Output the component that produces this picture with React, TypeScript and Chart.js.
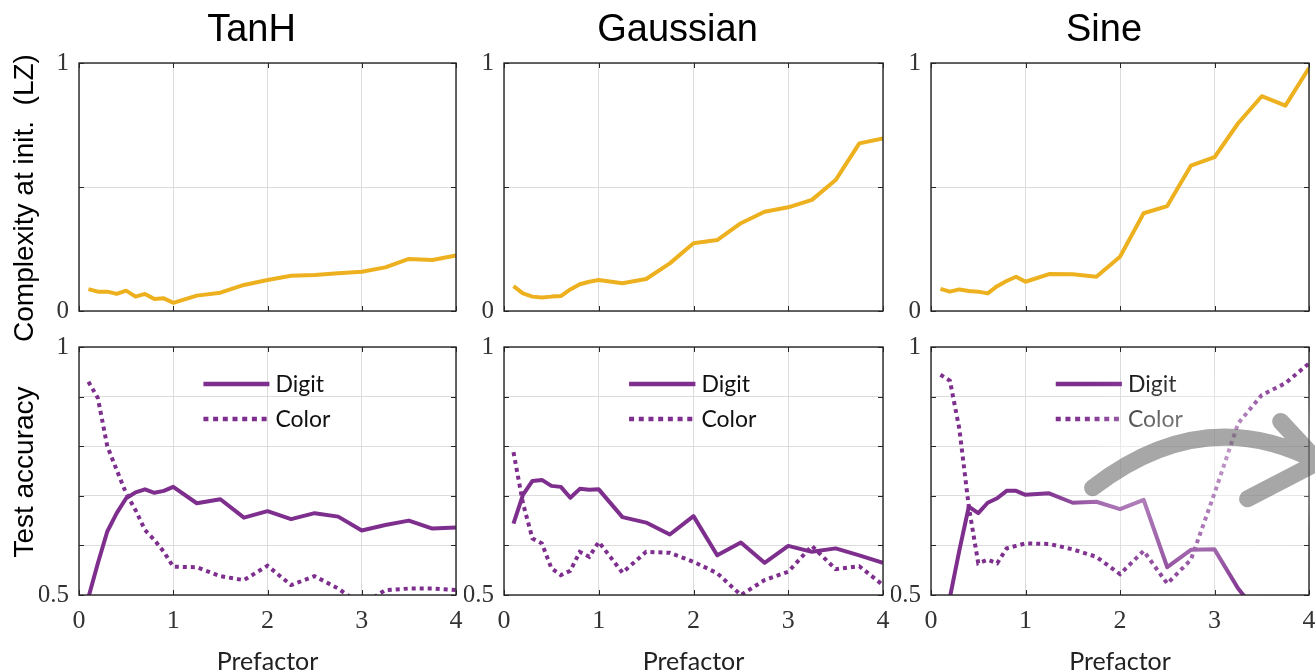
import React, { useEffect, useRef } from 'react';
import { Chart, registerables } from 'chart.js';

Chart.register(...registerables);

// ---------------- data ----------------
const PREFACTOR = [0.1, 0.2, 0.3, 0.4, 0.5, 0.6, 0.7, 0.8, 0.9, 1.0, 1.25, 1.5, 1.75, 2.0, 2.25, 2.5, 2.75, 3.0, 3.25, 3.5, 3.75, 4.0];

const TANH_COMPLEXITY = [0.088, 0.078, 0.078, 0.069, 0.082, 0.058, 0.069, 0.048, 0.051, 0.033, 0.062, 0.074, 0.105, 0.125, 0.142, 0.145, 0.152, 0.158, 0.176, 0.21, 0.206, 0.224];
const GAUSSIAN_COMPLEXITY = [0.1, 0.071, 0.058, 0.054, 0.058, 0.06, 0.087, 0.108, 0.118, 0.125, 0.112, 0.129, 0.192, 0.273, 0.286, 0.354, 0.4, 0.418, 0.448, 0.528, 0.676, 0.696];
const SINE_COMPLEXITY = [0.089, 0.078, 0.087, 0.081, 0.078, 0.071, 0.1, 0.121, 0.138, 0.118, 0.149, 0.148, 0.138, 0.219, 0.394, 0.423, 0.586, 0.62, 0.757, 0.866, 0.828, 0.98];

const TANH_DIGIT = [0.495, 0.564, 0.628, 0.665, 0.695, 0.707, 0.713, 0.706, 0.71, 0.718, 0.685, 0.693, 0.656, 0.669, 0.653, 0.665, 0.658, 0.63, 0.641, 0.65, 0.634, 0.636];
const TANH_COLOR = [0.93, 0.897, 0.8, 0.752, 0.705, 0.671, 0.631, 0.611, 0.587, 0.557, 0.556, 0.538, 0.53, 0.559, 0.52, 0.538, 0.513, 0.48, 0.51, 0.513, 0.513, 0.51];

const GAUSSIAN_DIGIT = [0.644, 0.702, 0.73, 0.732, 0.72, 0.718, 0.696, 0.714, 0.712, 0.713, 0.657, 0.646, 0.622, 0.659, 0.58, 0.606, 0.565, 0.599, 0.587, 0.594, 0.58, 0.565];
const GAUSSIAN_COLOR = [0.788, 0.685, 0.614, 0.604, 0.554, 0.54, 0.549, 0.587, 0.577, 0.607, 0.545, 0.587, 0.585, 0.567, 0.544, 0.5, 0.53, 0.547, 0.599, 0.552, 0.558, 0.52];

const SINE_DIGIT = [0.4, 0.495, 0.59, 0.678, 0.665, 0.686, 0.695, 0.71, 0.71, 0.702, 0.705, 0.686, 0.688, 0.673, 0.692, 0.556, 0.591, 0.592, 0.513, 0.454, 0.43, 0.41];
const SINE_COLOR = [0.944, 0.932, 0.835, 0.678, 0.564, 0.571, 0.564, 0.594, 0.599, 0.604, 0.603, 0.592, 0.577, 0.542, 0.589, 0.523, 0.571, 0.705, 0.846, 0.903, 0.927, 0.967];

const ACTIVATIONS = ['TanH', 'Gaussian', 'Sine'];
const COMPLEXITY_SERIES = [TANH_COMPLEXITY, GAUSSIAN_COMPLEXITY, SINE_COMPLEXITY];
const DIGIT_SERIES = [TANH_DIGIT, GAUSSIAN_DIGIT, SINE_DIGIT];
const COLOR_SERIES = [TANH_COLOR, GAUSSIAN_COLOR, SINE_COLOR];
const SERIES_NAMES = ['Digit', 'Color'];

const X_RANGE = [0, 4];
const X_STEP = 1;
const TOP_Y_RANGE = [0, 1];
const TOP_Y_STEP = 0.5;
const BOTTOM_Y_RANGE = [0.5, 1];
const BOTTOM_Y_STEP = 0.1;
const ROW_Y_TITLES = ['Complexity at init.  (LZ)', 'Test accuracy'];
const X_TITLE = 'Prefactor';

// grey annotation arrow in the Sine accuracy panel (data coordinates)
const ARROW = {
  start: [1.71, 0.716],
  control: [2.894, 0.89],
  tip: [4.1, 0.768],
  armA: [3.7, 0.85],
  armB: [3.35, 0.694],
};

// ---------------- layout / style ----------------
const PLOT_LEFT = [79, 504, 931];
const PLOT_RIGHT = [456, 883, 1309];
const PLOT_TOP = [63, 347];
const PLOT_BOTTOM = [311, 595];
const CANVAS_W = 1400;
const CANVAS_H = 720;
const Y_AXIS_W = 40;
const X_AXIS_H = [0, 40];

const ORANGE = '#EDB120';
const PURPLE = '#7E2F8E';
const GRID = '#dcdcdc';
const BOX = '#262626';
const SANS = '"Liberation Sans", Arial, sans-serif';
const LATO = 'Lato, "Noto Sans", sans-serif';
const SERIF = '"Liberation Serif", "DejaVu Serif", serif';

function makeDecor(row: number, col: number) {
  return {
    id: 'decor' + row + col,
    afterDraw(chart: any) {
      const ctx: CanvasRenderingContext2D = chart.ctx;
      const a = chart.chartArea;
      const xs = chart.scales.x;
      const ys = chart.scales.y;
      ctx.save();

      // inward ticks
      ctx.strokeStyle = BOX;
      ctx.lineWidth = 1;
      ctx.beginPath();
      for (const t of xs.ticks) {
        const px = Math.round(xs.getPixelForValue(t.value)) + 0.5;
        ctx.moveTo(px, a.top);
        ctx.lineTo(px, a.top + 5);
        ctx.moveTo(px, a.bottom);
        ctx.lineTo(px, a.bottom - 5);
      }
      for (const t of ys.ticks) {
        const py = Math.round(ys.getPixelForValue(t.value)) + 0.5;
        ctx.moveTo(a.left, py);
        ctx.lineTo(a.left + 5, py);
        ctx.moveTo(a.right, py);
        ctx.lineTo(a.right - 5, py);
      }
      ctx.stroke();

      // box
      ctx.lineWidth = 1.4;
      ctx.strokeRect(a.left, a.top, a.right - a.left, a.bottom - a.top);

      const w = a.right - a.left;
      const cx = (a.left + a.right) / 2;

      // legend
      if (row === 1) {
        const x0 = a.left + 0.33 * w;
        const x1 = a.left + 0.505 * w;
        const ysL = [a.top + 37, a.top + 72];
        ctx.strokeStyle = PURPLE;
        ctx.lineWidth = 4.5;
        ctx.lineCap = 'butt';
        SERIES_NAMES.forEach((name, i) => {
          ctx.setLineDash(i === 0 ? [] : [5, 4.7]);
          ctx.beginPath();
          ctx.moveTo(x0, ysL[i]);
          ctx.lineTo(x1, ysL[i]);
          ctx.stroke();
        });
        ctx.setLineDash([]);
        ctx.fillStyle = '#111';
        ctx.font = '23px ' + LATO;
        ctx.textAlign = 'left';
        ctx.textBaseline = 'alphabetic';
        SERIES_NAMES.forEach((name, i) => {
          ctx.fillText(name, x1 + 6, ysL[i] + 8);
        });
      }

      // halo + arrow
      if (row === 1 && col === 2) {
        const P = (p: number[]) => [xs.getPixelForValue(p[0]), ys.getPixelForValue(p[1])];
        const s = P(ARROW.start), c = P(ARROW.control), t = P(ARROW.tip);
        const aa = P(ARROW.armA), ab = P(ARROW.armB);
        const path = () => {
          ctx.beginPath();
          ctx.moveTo(s[0], s[1]);
          ctx.quadraticCurveTo(c[0], c[1], t[0], t[1]);
          ctx.moveTo(aa[0], aa[1]);
          ctx.lineTo(t[0], t[1]);
          ctx.lineTo(ab[0], ab[1]);
        };
        ctx.save();
        ctx.filter = 'blur(24px)';
        ctx.fillStyle = 'rgba(255,255,255,0.32)';
        ctx.beginPath();
        ctx.ellipse((s[0] + t[0]) / 2 - 10, c[1] + 80, 100, 95, 0, 0, Math.PI * 2);
        ctx.fill();
        ctx.strokeStyle = 'rgba(255,255,255,0.3)';
        ctx.lineWidth = 60;
        ctx.lineCap = 'round';
        ctx.lineJoin = 'round';
        path();
        ctx.stroke();
        ctx.restore();

        ctx.strokeStyle = 'rgba(80,80,80,0.5)';
        ctx.lineWidth = 17;
        ctx.lineCap = 'round';
        ctx.lineJoin = 'round';
        path();
        ctx.stroke();
      }

      // texts
      ctx.fillStyle = '#000';
      if (row === 0) {
        ctx.font = '38px ' + SANS;
        ctx.textAlign = 'center';
        ctx.textBaseline = 'alphabetic';
        ctx.fillText(ACTIVATIONS[col], cx - 16, 41);
      }
      if (col === 0) {
        ctx.save();
        ctx.font = '28px ' + SANS;
        ctx.textAlign = 'center';
        ctx.textBaseline = 'alphabetic';
        ctx.translate(33, (a.top + a.bottom) / 2 + (row === 0 ? 11 : 1));
        ctx.rotate(-Math.PI / 2);
        ctx.fillText(ROW_Y_TITLES[row], 0, 0);
        ctx.restore();
      }
      if (row === 1) {
        ctx.font = '25px ' + LATO;
        ctx.fillStyle = '#222';
        ctx.textAlign = 'center';
        ctx.textBaseline = 'alphabetic';
        ctx.fillText(X_TITLE, cx, 670);
      }
      ctx.restore();
    },
  };
}

function Panel({ row, col }: { row: number; col: number }) {
  const ref = useRef<HTMLCanvasElement | null>(null);
  useEffect(() => {
    if (!ref.current) return;
    const yr = row === 0 ? TOP_Y_RANGE : BOTTOM_Y_RANGE;
    const ystep = row === 0 ? TOP_Y_STEP : BOTTOM_Y_STEP;
    const toPts = (s: number[]) => PREFACTOR.map((x, i) => ({ x, y: s[i] }));
    const datasets: any[] =
      row === 0
        ? [
            {
              label: 'Complexity',
              data: toPts(COMPLEXITY_SERIES[col]),
              borderColor: ORANGE,
              borderWidth: 4,
              pointRadius: 0,
              tension: 0,
              clip: 0,
              borderJoinStyle: 'round',
            },
          ]
        : [
            {
              label: SERIES_NAMES[0],
              data: toPts(DIGIT_SERIES[col]),
              borderColor: PURPLE,
              borderWidth: 4,
              pointRadius: 0,
              tension: 0,
              clip: 0,
              borderJoinStyle: 'round',
            },
            {
              label: SERIES_NAMES[1],
              data: toPts(COLOR_SERIES[col]),
              borderColor: PURPLE,
              borderWidth: 4,
              borderDash: [4, 4],
              borderCapStyle: 'butt',
              pointRadius: 0,
              tension: 0,
              clip: 0,
            },
          ];
    const chart = new Chart(ref.current, {
      type: 'line',
      data: { datasets },
      plugins: [makeDecor(row, col)],
      options: {
        animation: false,
        responsive: false,
        events: [],
        layout: {
          padding: {
            left: PLOT_LEFT[col] - Y_AXIS_W,
            right: CANVAS_W - PLOT_RIGHT[col],
            top: PLOT_TOP[row],
            bottom: CANVAS_H - PLOT_BOTTOM[row] - X_AXIS_H[row],
          },
        },
        plugins: { legend: { display: false }, tooltip: { enabled: false }, title: { display: false } },
        scales: {
          x: {
            type: 'linear',
            min: X_RANGE[0],
            max: X_RANGE[1],
            afterFit: (s: any) => {
              s.height = X_AXIS_H[row];
            },
            border: { display: false },
            grid: { color: GRID, lineWidth: 1, drawTicks: false },
            ticks: {
              display: row === 1,
              stepSize: X_STEP,
              padding: 11,
              color: '#333',
              font: { family: SERIF, size: 26 },
              callback: (v: any) => String(v),
            },
          },
          y: {
            type: 'linear',
            min: yr[0],
            max: yr[1],
            afterFit: (s: any) => {
              s.width = Y_AXIS_W;
            },
            border: { display: false },
            grid: { color: GRID, lineWidth: 1, drawTicks: false },
            ticks: {
              stepSize: ystep,
              padding: 10,
              color: '#333',
              font: { family: SERIF, size: 25 },
              callback: (v: any) =>
                Math.abs(v - yr[0]) < 1e-9 || Math.abs(v - yr[1]) < 1e-9 ? String(v) : '',
            },
          },
        },
      } as any,
    });
    return () => chart.destroy();
  }, [row, col]);
  return (
    <canvas
      ref={ref}
      width={CANVAS_W}
      height={CANVAS_H}
      style={{ position: 'absolute', left: 0, top: 0, width: CANVAS_W, height: CANVAS_H }}
    />
  );
}

export default function App() {
  const panels: { row: number; col: number }[] = [];
  for (let r = 0; r < 2; r++) for (let c = 0; c < 3; c++) panels.push({ row: r, col: c });
  return (
    <div
      style={{
        position: 'fixed',
        left: 0,
        top: 0,
        width: 1315,
        height: 670,
        overflow: 'hidden',
        background: '#fff',
      }}
    >
      {panels.map((p) => (
        <Panel key={p.row + '-' + p.col} row={p.row} col={p.col} />
      ))}
    </div>
  );
}
